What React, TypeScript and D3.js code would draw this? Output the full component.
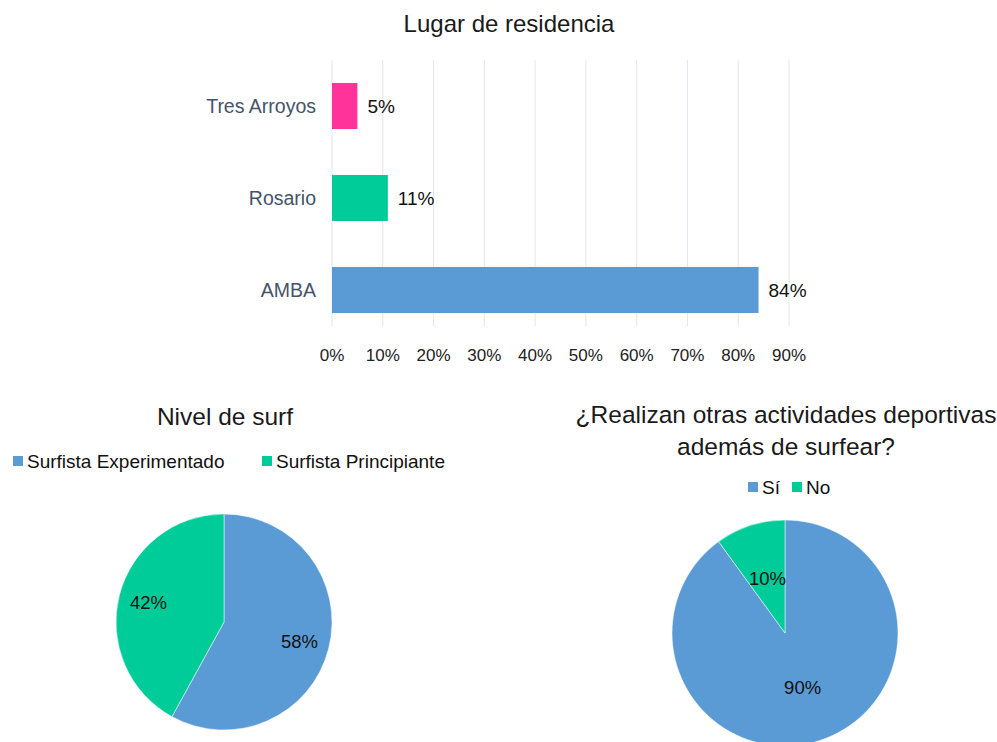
import React from "react";
import * as d3 from "d3";

const residCategories = ["Tres Arroyos", "Rosario", "AMBA"];
const residValues = [5, 11, 84];
const residColors = ["#FF3399", "#00CC99", "#5B9BD5"];
const xTicks = [0, 10, 20, 30, 40, 50, 60, 70, 80, 90];

const nivelLabels = ["Surfista Experimentado", "Surfista Principiante"];
const nivelValues = [58, 42];
const otrasLabels = ["Sí", "No"];
const otrasValues = [90, 10];
const pieColors = ["#5B9BD5", "#00CC99"];

const FONT = "'Liberation Sans', Arial, sans-serif";

function Pie({ cx, cy, r, values, labelR }: { cx: number; cy: number; r: number; values: number[]; labelR: number }) {
  const arcs = d3.pie<number>().sort(null).value((d) => d)(values);
  const arcGen = d3.arc<d3.PieArcDatum<number>>().innerRadius(0).outerRadius(r);
  const labelArc = d3.arc<d3.PieArcDatum<number>>().innerRadius(labelR).outerRadius(labelR);
  return (
    <g transform={`translate(${cx},${cy})`}>
      {arcs.map((a, i) => (
        <path key={i} d={arcGen(a) || ""} fill={pieColors[i]} stroke="#fff" strokeWidth={0.5} />
      ))}
      {arcs.map((a, i) => {
        const [x, y] = labelArc.centroid(a);
        return (
          <text key={"l" + i} x={x} y={y} dy="0.35em" textAnchor="middle" fontSize={18.5} fill="#111">
            {values[i]}%
          </text>
        );
      })}
    </g>
  );
}

export default function App() {
  const W = 997, H = 742;
  const x = d3.scaleLinear().domain([0, 90]).range([332, 789]);
  const y = d3.scaleBand().domain(residCategories).range([60, 336]).paddingInner(0.5).paddingOuter(0.25);

  return (
    <svg width={W} height={H} style={{ position: "absolute", left: 0, top: 0, background: "#fff" }} fontFamily={FONT}>
      <rect width={W} height={H} fill="#fff" />
      {/* Bar chart */}
      <text x={509} y={32} textAnchor="middle" fontSize={24} fill="#1a1a1a">Lugar de residencia</text>
      {xTicks.map((t) => (
        <line key={t} x1={x(t)} x2={x(t)} y1={60} y2={326} stroke="#E3E6EB" strokeWidth={1} />
      ))}
      {xTicks.map((t) => (
        <text key={"t" + t} x={x(t)} y={361} textAnchor="middle" fontSize={17} fill="#222">{t}%</text>
      ))}
      {residCategories.map((c, i) => (
        <g key={c}>
          <rect x={x(0)} y={y(c)!} width={x(residValues[i]) - x(0)} height={y.bandwidth()} fill={residColors[i]} />
          <text x={316} y={y(c)! + y.bandwidth() / 2} dy="0.35em" textAnchor="end" fontSize={19.5} fill="#44546A">{c}</text>
          <text x={x(residValues[i]) + 10} y={y(c)! + y.bandwidth() / 2} dy="0.35em" textAnchor="start" fontSize={19} fill="#111">{residValues[i]}%</text>
        </g>
      ))}

      {/* Pie 1 */}
      <text x={225} y={425} textAnchor="middle" fontSize={24.5} fill="#1a1a1a">Nivel de surf</text>
      {nivelLabels.map((l, i) => {
        const lx = i === 0 ? 13 : 262;
        return (
          <g key={l}>
            <rect x={lx} y={456} width={10} height={10} fill={pieColors[i]} />
            <text x={lx + 14} y={461} dy="0.35em" fontSize={19} fill="#111">{l}</text>
          </g>
        );
      })}
      <Pie cx={224} cy={622} r={108} values={nivelValues} labelR={78} />

      {/* Pie 2 */}
      <text x={786} y={423} textAnchor="middle" fontSize={24.5} fill="#1a1a1a">¿Realizan otras actividades deportivas</text>
      <text x={786} y={455} textAnchor="middle" fontSize={24.5} fill="#1a1a1a">además de surfear?</text>
      {otrasLabels.map((l, i) => {
        const lx = i === 0 ? 748 : 792;
        return (
          <g key={l}>
            <rect x={lx} y={482} width={10} height={10} fill={pieColors[i]} />
            <text x={lx + 14} y={487} dy="0.35em" fontSize={19} fill="#111">{l}</text>
          </g>
        );
      })}
      <Pie cx={785} cy={633} r={113} values={otrasValues} labelR={57} />
    </svg>
  );
}
